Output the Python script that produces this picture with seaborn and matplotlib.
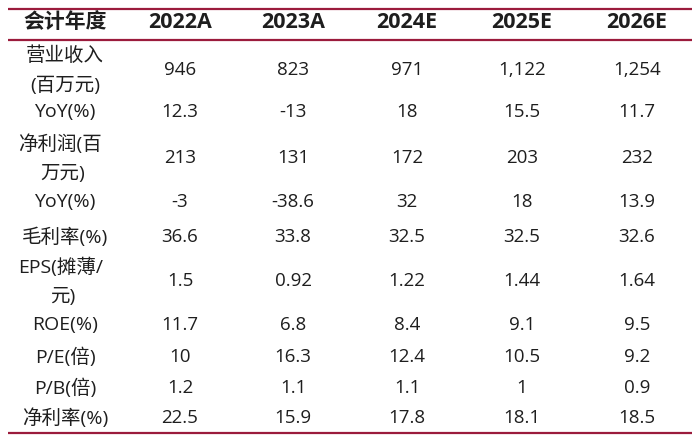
import matplotlib
matplotlib.use("Agg")
import matplotlib.pyplot as plt
import seaborn as sns

sns.set_theme(style="white")
plt.rcParams['font.family'] = ['Open Sans', 'Noto Sans CJK SC', 'DejaVu Sans']

header_label = "会计年度"
years = ["2022A", "2023A", "2024E", "2025E", "2026E"]
row_labels = ["营业收入\n(百万元)", "YoY(%)", "净利润(百\n万元)", "YoY(%)", "毛利率(%)",
              "EPS(摊薄/\n元)", "ROE(%)", "P/E(倍)", "P/B(倍)", "净利率(%)"]
revenue = ["946", "823", "971", "1,122", "1,254"]
revenue_yoy = ["12.3", "-13", "18", "15.5", "11.7"]
net_profit = ["213", "131", "172", "203", "232"]
profit_yoy = ["-3", "-38.6", "32", "18", "13.9"]
gross_margin = ["36.6", "33.8", "32.5", "32.5", "32.6"]
eps = ["1.5", "0.92", "1.22", "1.44", "1.64"]
roe = ["11.7", "6.8", "8.4", "9.1", "9.5"]
pe = ["10", "16.3", "12.4", "10.5", "9.2"]
pb = ["1.2", "1.1", "1.1", "1", "0.9"]
net_margin = ["22.5", "15.9", "17.8", "18.1", "18.5"]
rows = [revenue, revenue_yoy, net_profit, profit_yoy, gross_margin,
        eps, roe, pe, pb, net_margin]

# layout (pixel coordinates)
col_x = [180, 293, 407, 522, 637]
label_x = 63
row_y = [70, 112, 158, 202, 237, 281, 325, 357, 388, 418]
line_col = "#9B1B3C"
txt = "#1e1e1e"

fig = plt.figure(figsize=(7, 4.42), dpi=100)
ax = fig.add_axes([0, 0, 1, 1])
ax.set_xlim(0, 700)
ax.set_ylim(442, 0)
ax.axis("off")

ax.hlines([8.5, 39.5, 433], 8, 692, colors=line_col, linewidth=1.6)

ax.text(label_x + 2, 23, header_label, ha="center", va="center", fontsize=15,
        fontweight="bold", color=txt)
for x, y in zip(col_x, years):
    ax.text(x, 23, y, ha="center", va="center", fontsize=15.5,
            fontweight="bold", color=txt)

for lab, vals, y in zip(row_labels, rows, row_y):
    if "\n" in lab:
        l1, l2 = lab.split("\n")
        if lab.startswith("营业"):
            ax.text(label_x + 2, y - 14, l1, ha="center", va="center", fontsize=14, color=txt)
            ax.text(label_x + 2, y + 16, l2, ha="center", va="center", fontsize=14, color=txt)
        else:
            ax.text(18, y - 14, l1, ha="left", va="center", fontsize=14, color=txt)
            ax.text(label_x, y + 16, l2, ha="center", va="center", fontsize=14, color=txt)
    else:
        ax.text(label_x + 2, y, lab, ha="center", va="center", fontsize=14, color=txt)
    for x, v in zip(col_x, vals):
        ax.text(x, y, v, ha="center", va="center", fontsize=13.5, color=txt)

fig.savefig("out.png", dpi=100)
